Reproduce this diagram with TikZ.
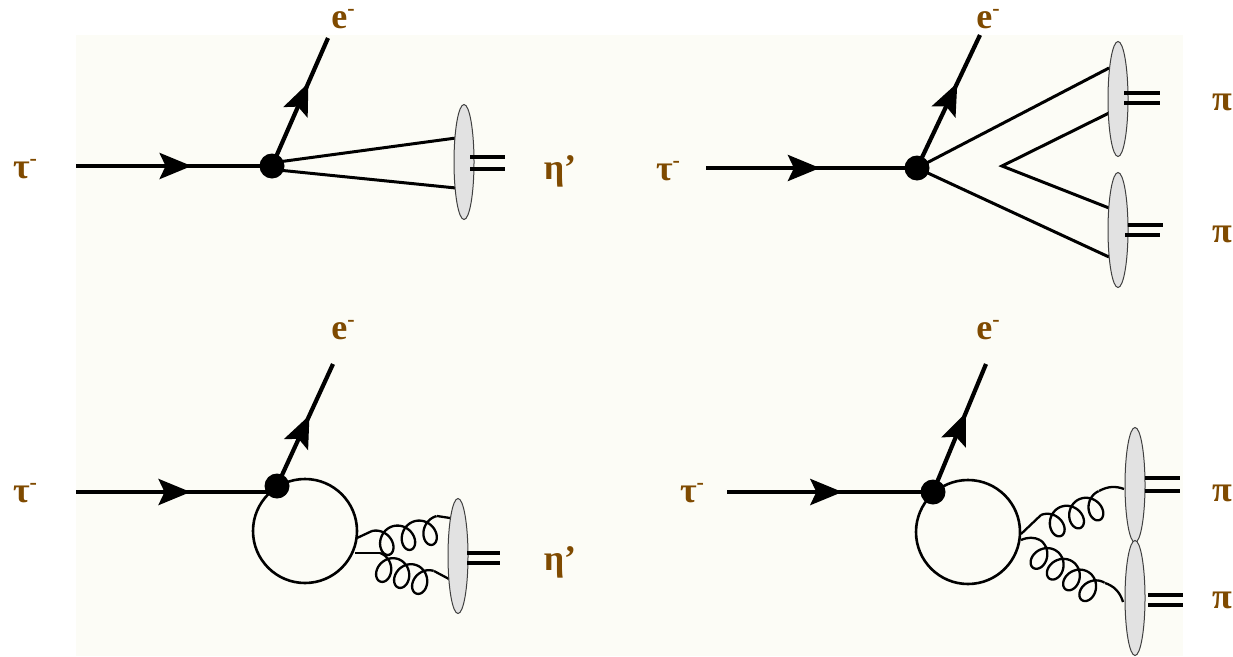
\documentclass[tikz,border=0pt]{standalone}
\usepackage{fontspec}
\setmainfont{Liberation Serif}
\usetikzlibrary{shapes.geometric,calc,arrows.meta,decorations.markings}
\definecolor{bgc}{HTML}{FCFCF6}
\definecolor{lab}{HTML}{7F4A00}
\definecolor{blob}{HTML}{E2E2E2}
\newcommand{\sminus}{\smash{\raisebox{0.36em}{\fontsize{22}{22}\selectfont -}}}
\newcommand{\gluon}[6]{% start, end, loops, along amp, perp amp, bend
  \draw[gluonline] let \p1=(#1),\p2=(#2),\n1={veclen(\x2-\x1,\y2-\y1)} in
    plot[variable=\s,domain=0:1,samples=161]
    ({\x1+(\x2-\x1)*\s+((\x2-\x1)/\n1)*#4*sin(360*#3*\s)+((\y2-\y1)/\n1)*(#5*(1-cos(360*#3*\s))+#6*sin(180*\s))},
     {\y1+(\y2-\y1)*\s+((\y2-\y1)/\n1)*#4*sin(360*#3*\s)-((\x2-\x1)/\n1)*(#5*(1-cos(360*#3*\s))+#6*sin(180*\s))});}
\tikzset{
  x=1pt,y=-1pt,
  fermion/.style={line width=4.2pt,postaction={decorate},
    decoration={markings,mark=at position #1 with {\arrow{Stealth[length=32pt,width=26pt,inset=6pt]}}}},
  quark/.style={line width=3pt},
  doubleline/.style={line width=3.2pt},
  gluonline/.style={line width=2.3pt,line join=round},
  loopline/.style={line width=2.6pt},
  vertexdot/.style={circle,fill=black,minimum size=25pt,inner sep=0pt},
  hadron/.style={ellipse,draw=black!75,line width=1pt,fill=blob,minimum width=20pt,minimum height=115pt,inner sep=0pt},
  lbl/.style={text=lab,font=\fontsize{36}{38}\selectfont\bfseries,inner sep=0pt,anchor=center}
}
\begin{document}
\begin{tikzpicture}
\useasboundingbox (0,0) rectangle (1233,656);
\fill[bgc] (76,35) rectangle (1183,656);

% top left
\coordinate (a0) at (76,166);
\coordinate (ae) at (328,38);
\coordinate (a1) at (456,138);
\coordinate (a2) at (456,188);
\coordinate (ad1) at (505,157);
\coordinate (ad2) at (505,169);
\coordinate (ad1s) at (470,157);
\coordinate (ad2s) at (470,169);
\node[vertexdot] (av) at (272,166) {};
\draw[fermion=0.59] (a0) -- (av.center);
\draw[fermion=0.65] (av.center) -- (ae);
\draw[quark] ($(av.center)+(6,-4)$) -- (a1);
\draw[quark] ($(av.center)+(6,4)$) -- (a2);
\node[hadron] (ah) at (464,162) {};
\draw[doubleline] (ad1s) -- (ad1);
\draw[doubleline] (ad2s) -- (ad2);
\node[lbl] (lt1) at (25,170) {τ\sminus};
\node[lbl] (le1) at (343,20) {e\sminus};
\node[lbl] (ln1) at (560,171) {η’};

% top right
\coordinate (b0) at (706,168);
\coordinate (be) at (980,35);
\coordinate (b1) at (1109,68);
\coordinate (b2) at (1109,113);
\coordinate (bm) at (1002,166);
\coordinate (b3) at (1109,208);
\coordinate (b4) at (1109,257);
\coordinate (bd1s) at (1124,93);
\coordinate (bd1) at (1160,93);
\coordinate (bd2s) at (1124,103);
\coordinate (bd2) at (1160,103);
\coordinate (bd3s) at (1128,225);
\coordinate (bd3) at (1163,225);
\coordinate (bd4s) at (1125,235);
\coordinate (bd4) at (1160,235);
\node[vertexdot] (bv) at (917,168) {};
\draw[fermion=0.54] (b0) -- (bv.center);
\draw[fermion=0.64] (bv.center) -- (be);
\draw[quark] (bv.center) -- (b1);
\draw[quark] (bv.center) -- (b4);
\draw[quark,line join=miter] (b2) -- (bm) -- (b3);
\node[hadron] (bh1) at (1118,99) {};
\node[hadron] (bh2) at (1118,230) {};
\draw[doubleline] (bd1s) -- (bd1);
\draw[doubleline] (bd2s) -- (bd2);
\draw[doubleline] (bd3s) -- (bd3);
\draw[doubleline] (bd4s) -- (bd4);
\node[lbl] (lt2) at (668,172) {τ\sminus};
\node[lbl] (le2) at (988,20) {e\sminus};
\node[lbl] (lp1) at (1222,102) {π};
\node[lbl] (lp2) at (1222,234) {π};

% bottom left
\coordinate (c0) at (76,492);
\coordinate (ce) at (333,364);
\node[vertexdot] (cv) at (277,486) {};
\node[circle,draw,loopline,minimum size=104pt,inner sep=0pt] (cl) at (305,531) {};
\draw[fermion=0.57] (c0) -- ($(c0)+(201,0)$) coordinate (c0e);
\draw[fermion=0.58] (cv.center) -- (ce);
\coordinate (cg1) at (357,538);
\coordinate (cg1a) at (372,531);
\coordinate (cg1b) at (437,516);
\coordinate (cg1c) at (450,518);
\coordinate (cg2) at (355,553);
\coordinate (cg2a) at (380,553);
\coordinate (cg2b) at (434,571);
\coordinate (cg2c) at (449,579);
\draw[gluonline] (cg1) -- (cg1a);
\gluon{cg1a}{cg1b}{3}{11.5}{13.5}{0}
\draw[gluonline] (cg1b) -- (cg1c);
\draw[gluonline] (cg2) -- (cg2a);
\gluon{cg2a}{cg2b}{3}{11.5}{13.5}{0}
\draw[gluonline] (cg2b) -- (cg2c);
\node[hadron] (ch) at (458,556) {};
\coordinate (cd1s) at (467,553);
\coordinate (cd1) at (500,553);
\coordinate (cd2s) at (467,563);
\coordinate (cd2) at (500,563);
\draw[doubleline] (cd1s) -- (cd1);
\draw[doubleline] (cd2s) -- (cd2);
\node[lbl] (lt3) at (25,494) {τ\sminus};
\node[lbl] (le3) at (343,331) {e\sminus};
\node[lbl] (ln2) at (560,562) {η’};

% bottom right
\coordinate (d0) at (727,492);
\coordinate (de) at (986,364);
\node[vertexdot] (dv) at (933,492) {};
\node[circle,draw,loopline,minimum size=104pt,inner sep=0pt] (dl) at (968,532) {};
\draw[fermion=0.56] (d0) -- (dv.center);
\draw[fermion=0.62] (dv.center) -- (de);
\coordinate (dg1) at (1021,534);
\coordinate (dg1a) at (1041,515);
\coordinate (dg1b) at (1099,491);
\coordinate (dg1c) at (1124,489);
\coordinate (dg2) at (1021,540);
\coordinate (dg2a) at (1040,540);
\coordinate (dg2b) at (1105,583);
\coordinate (dg2c) at (1123,602);
\draw[gluonline] (dg1) -- (dg1a);
\gluon{dg1a}{dg1b}{3}{11.5}{13.5}{0}
\draw[gluonline] (dg1b) .. controls (1108,486) and (1116,486) .. (dg1c);
\draw[gluonline] (dg2) .. controls (1028,537) and (1034,537) .. (dg2a);
\gluon{dg2a}{dg2b}{4}{11.5}{13.5}{0}
\draw[gluonline] (dg2b) .. controls (1114,586) and (1120,592) .. (dg2c);
\node[hadron] (dh1) at (1135,485) {};
\node[hadron] (dh2) at (1135,598) {};
\coordinate (dd1s) at (1145,478);
\coordinate (dd1) at (1180,478);
\coordinate (dd2s) at (1145,491);
\coordinate (dd2) at (1180,491);
\coordinate (dd3s) at (1148,595);
\coordinate (dd3) at (1183,595);
\coordinate (dd4s) at (1148,605);
\coordinate (dd4) at (1183,605);
\draw[doubleline] (dd1s) -- (dd1);
\draw[doubleline] (dd2s) -- (dd2);
\draw[doubleline] (dd3s) -- (dd3);
\draw[doubleline] (dd4s) -- (dd4);
\node[lbl] (lt4) at (692,494) {τ\sminus};
\node[lbl] (le4) at (988,331) {e\sminus};
\node[lbl] (lp3) at (1222,493) {π};
\node[lbl] (lp4) at (1222,600) {π};
\end{tikzpicture}
\end{document}
